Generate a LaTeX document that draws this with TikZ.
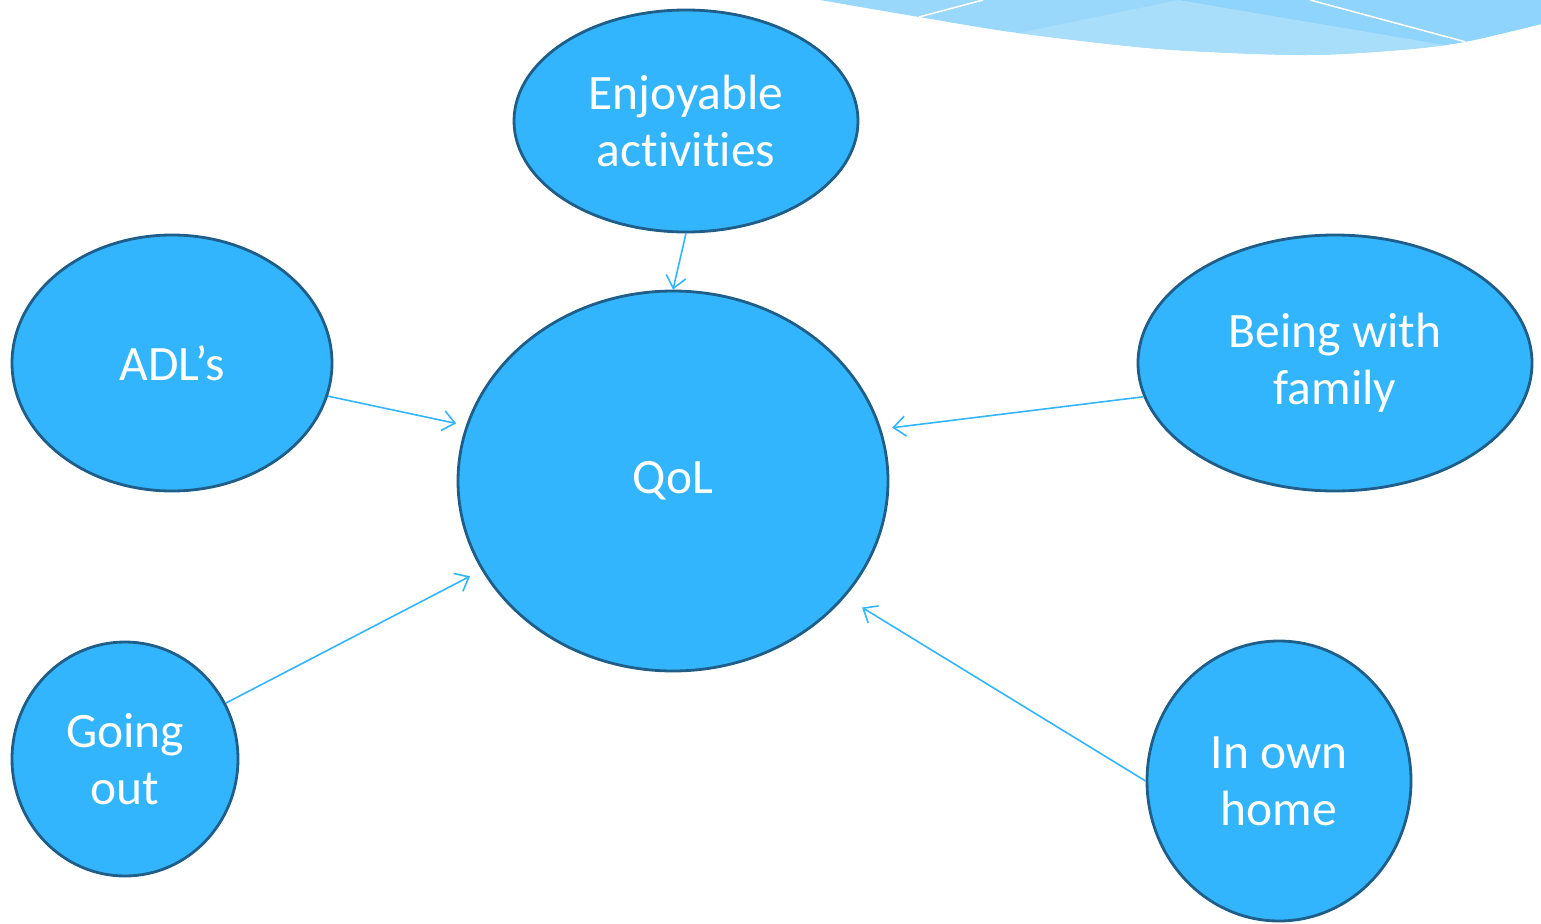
\documentclass[tikz,border=0pt]{standalone}
\usepackage{fontspec}
\setmainfont{Carlito}[Ligatures={NoCommon}]
\usetikzlibrary{shapes.geometric,arrows.meta}
\definecolor{bubble}{HTML}{33B5FD}
\definecolor{rim}{HTML}{1F5E88}
\definecolor{link}{HTML}{33B5FD}
\definecolor{banA}{HTML}{99D7FB}
\definecolor{banB}{HTML}{A9DEFB}
\definecolor{banC}{HTML}{8ED4FD}
\begin{document}
\begin{tikzpicture}[x=1pt,y=-1pt,
  bub/.style={ellipse,draw=rim,line width=2.8pt,fill=bubble,text=white,inner sep=0pt,
    font=\fontsize{49.5}{57}\selectfont,align=center},
  conn/.style={draw=link,line width=1.6pt,-{Straight Barb[length=12pt,width=20pt,line width=1.6pt]}}]
\useasboundingbox (0,0) rectangle (1541,923);
% banner decoration
\begin{scope}
\clip plot[smooth] coordinates {(820,0) (919,17) (1018,33) (1160,49) (1303,55) (1400,50) (1464,42) (1541,24)} -- (1541,0) -- cycle;
\fill[banA] (800,-5) rectangle (1545,80);
\fill[banB] (1018,33) -- (1179,0) -- (1445,45) -- (1300,90) -- (1000,90) -- cycle;
\fill[banC] (1179,0) -- (1445,45) -- (1545,30) -- (1545,-5) -- (1179,-5) -- cycle;
\draw[white,line width=1.5pt] (919,17) -- (983,0);
\draw[white,line width=1.5pt] (1310,0) -- (1466,42);
\end{scope}
% nodes
\node[bub,minimum width=430pt,minimum height=380pt] (qol) at (673,481) {QoL};
\node[bub,minimum width=344pt,minimum height=222pt] (enj) at (686,121) {Enjoyable\\activities};
\node[bub,minimum width=320pt,minimum height=256pt] (adl) at (172,363) {ADL’s};
\node[bub,minimum width=394pt,minimum height=256pt] (fam) at (1335,363) {Being with\\family};
\node[bub,minimum width=226pt,minimum height=234pt] (out) at (125,759) {Going\\out};
\node[bub,minimum width=264pt,minimum height=280pt] (home) at (1279,781) {In own\\home};
% connectors
\draw[conn] (enj.south) -- (qol.north);
\draw[conn,shorten >=10pt] (adl.-12) -- (qol.165.6);
\draw[conn,shorten >=11pt] (fam.190) -- (qol.14.7);
\draw[conn,shorten >=13pt] (out.29) -- (qol.205.7);
\draw[conn,shorten >=20pt] (home.west) -- (qol.-34.7);
\end{tikzpicture}
\end{document}
